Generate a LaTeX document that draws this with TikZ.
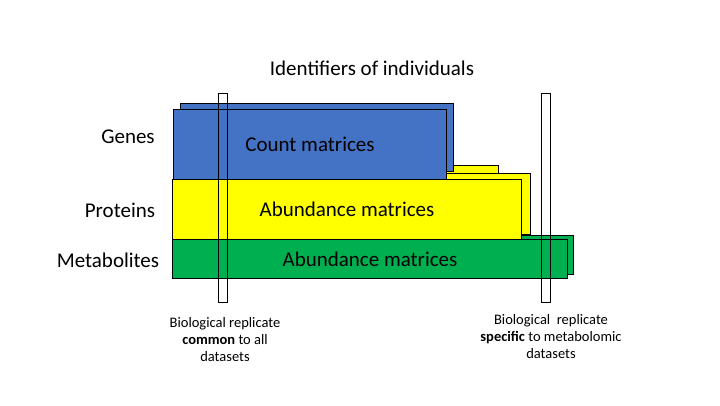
\documentclass[tikz,border=0pt]{standalone}
\usepackage{fontspec}
\setmainfont{Carlito}
\usetikzlibrary{positioning}
\definecolor{mBlue}{HTML}{4472C4}
\definecolor{mYellow}{HTML}{FFFF00}
\definecolor{mGreen}{HTML}{00B050}

\begin{document}
\begin{tikzpicture}[x=1pt, y=-1pt,
    layer/.style={draw, line width=1pt, anchor=north west, inner sep=0pt},
    replicate/.style={draw, line width=1pt, anchor=north west, inner sep=0pt, minimum width=9pt, minimum height=209pt},
    every node/.style={font=\fontsize{21}{25}\selectfont}]
    \useasboundingbox (0,0) rectangle (720,405);
    \node at (372,68) (title) {Identifiers of individuals};
    % back layers
    \node[layer, fill=mYellow, minimum width=198pt, minimum height=40pt] (protBackA) at (300,165) {};
    \node[layer, fill=mYellow, minimum width=350pt, minimum height=61pt] (protBackB) at (180,173) {};
    \node[layer, fill=mBlue, minimum width=273pt, minimum height=68pt] (genesBack) at (180,103) {};
    \node[layer, fill=mBlue, minimum width=273pt, minimum height=70pt] (genesFront) at (173,109) {Count matrices};
    \node[layer, fill=mGreen, minimum width=393pt, minimum height=39pt] (metabBack) at (180,235) {};
    \node[layer, fill=mYellow, minimum width=349pt, minimum height=60pt] (protFront) at (172,179) {Abundance matrices};
    \node[layer, fill=mGreen, minimum width=395pt, minimum height=39pt] (metabFront) at (172,239) {Abundance matrices};
    % row labels
    \node at (128,137) (genes) {Genes};
    \node at (120,210) (proteins) {Proteins};
    \node at (108,260) (metabolites) {Metabolites};
    % replicates
    \node[replicate] (repCommon) at (218,93) {};
    \node[replicate] (repSpecific) at (541,93) {};
    \node[align=center, font=\fontsize{14.5}{17}\selectfont] (capCommon) at (225,340)
      {Biological replicate\\\textbf{common} to all\\datasets};
    \node[align=center, font=\fontsize{14.5}{17}\selectfont] (capSpecific) at (551,337)
      {Biological\ \ replicate\\\textbf{specific} to metabolomic\\datasets};
\end{tikzpicture}
\end{document}
